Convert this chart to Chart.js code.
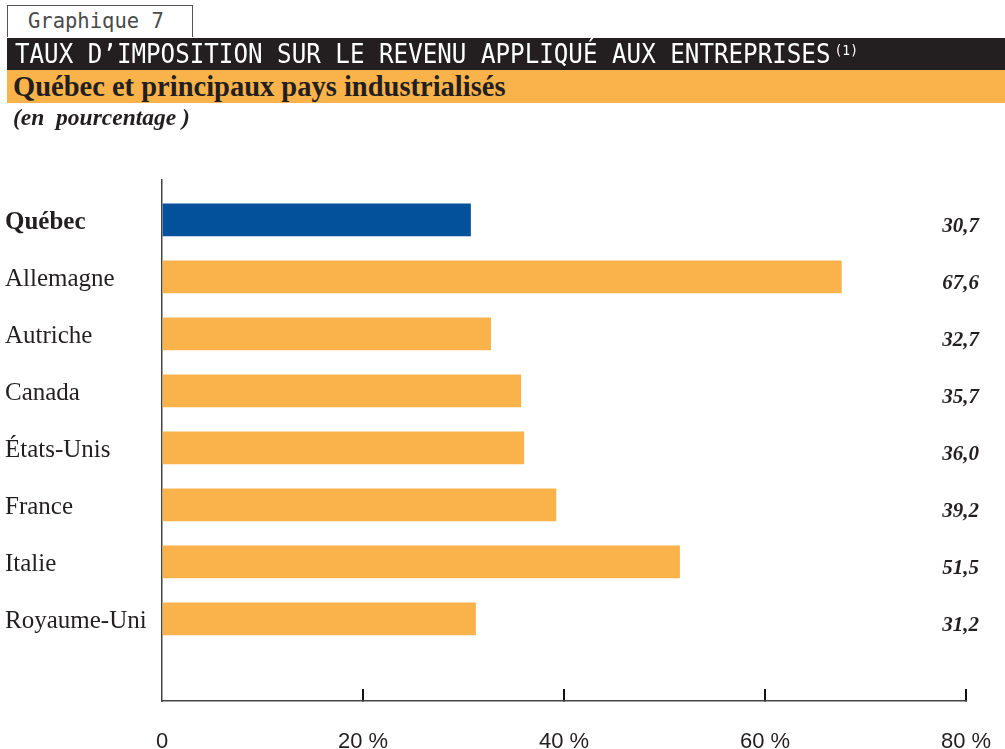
<!DOCTYPE html>
<html><head><meta charset="utf-8">
<script src="https://cdn.jsdelivr.net/npm/chart.js@4"></script>
<style>
html,body{margin:0;padding:0;background:#fff;width:1005px;height:749px;overflow:hidden;}
#wrap{position:relative;width:1005px;height:749px;}
canvas{position:absolute;left:0;top:0;}
.hdr{position:absolute;white-space:nowrap;}
#gbox{left:7px;top:5px;width:184px;height:31px;border:1.5px solid #555;border-bottom:none;background:#fff;
 font-family:'DejaVu Sans Mono',monospace;font-size:20.5px;color:#4a4a4a;line-height:31px;}
#gbox span{margin-left:20px;}
#band1{left:7px;top:38px;width:998px;height:32px;background:#231f20;color:#fff;
 font-family:'DejaVu Sans Mono',monospace;font-size:24.2px;line-height:32px;}
#band1 .t{display:inline-block;transform:scaleY(1.12);margin-left:8px;}
#band1 sup{font-size:13px;vertical-align:top;position:relative;top:-3px;margin-left:4px;}
#band2{left:7px;top:70px;width:998px;height:33px;background:#fab34a;color:#231f20;
 font-family:'Liberation Serif',serif;font-weight:bold;font-size:28.5px;line-height:33px;}
#band2 span{margin-left:6px;}
#unit{left:13px;top:103px;font-family:'Liberation Serif',serif;font-style:italic;font-weight:bold;font-size:23.5px;color:#231f20;line-height:28px;}
</style></head>
<body><div id="wrap">
<canvas id="c" width="1005" height="749"></canvas>
<div class="hdr" id="gbox"><span>Graphique 7</span></div>
<div class="hdr" id="band1"><span class="t">TAUX D’IMPOSITION SUR LE REVENU APPLIQUÉ AUX ENTREPRISES<sup>(1)</sup></span></div>
<div class="hdr" id="band2"><span>Québec et principaux pays industrialisés</span></div>
<div class="hdr" id="unit">(en&nbsp; pourcentage )</div>
</div>
<script>
const categories = ['Québec','Allemagne','Autriche','Canada','États-Unis','France','Italie','Royaume-Uni'];
const values = [30.7, 67.6, 32.7, 35.7, 36.0, 39.2, 51.5, 31.2];
const xTicks = [0, 20, 40, 60, 80];
const highlight = 'Québec';

const ORANGE = '#fab34a', BLUE = '#03519b', INK = '#231f20';

const valueLabels = {
  id: 'valueLabels',
  afterDatasetsDraw(chart) {
    const ctx = chart.ctx, ys = chart.scales.y, area = chart.chartArea;
    ctx.save();
    ctx.font = 'italic bold 21px "Liberation Serif", serif';
    ctx.fillStyle = INK;
    ctx.textAlign = 'right';
    ctx.textBaseline = 'middle';
    values.forEach((v, i) => {
      ctx.fillText(v.toFixed(1).replace('.', ','), area.right + 13, ys.getPixelForValue(i) + 7);
    });
    ctx.restore();
  }
};

new Chart(document.getElementById('c'), {
  type: 'bar',
  data: {
    datasets: [{
      data: values.map((v, i) => ({x: v, y: i})),
      backgroundColor: categories.map(c => c === highlight ? BLUE : ORANGE),
      barThickness: 32,
      borderWidth: 0
    }]
  },
  options: {
    indexAxis: 'y',
    responsive: false,
    animation: false,
    devicePixelRatio: 1,
    layout: {padding: {top: 180, left: 5, right: 39, bottom: 0}},
    plugins: {legend: {display: false}, tooltip: {enabled: false}},
    scales: {
      x: {
        type: 'linear', position: 'bottom', min: 0, max: 80, bounds: 'data', offset: false,
        afterBuildTicks: s => { s.ticks = xTicks.map(v => ({value: v})); },
        afterFit: s => { s.height = 48; s.paddingLeft = 0; s.paddingRight = 0; },
        border: {display: true, color: '#444', width: 1.5},
        grid: {
          offset: false, drawOnChartArea: false, drawTicks: true, tickLength: -12,
          color: c => (c.tick && c.tick.value === 0) ? 'rgba(0,0,0,0)' : '#111',
          lineWidth: 2
        },
        ticks: {
          padding: 40, color: INK, maxRotation: 0,
          font: {family: "'Liberation Sans', sans-serif", size: 22},
          callback: v => v === 0 ? '0' : v + ' %'
        }
      },
      y: {
        type: 'linear', reverse: true, min: -0.7, max: 8.44, bounds: 'data', offset: false,
        afterBuildTicks: s => { s.ticks = categories.map((_, i) => ({value: i})); },
        afterFit: s => { s.width = 157; s.paddingTop = 0; s.paddingBottom = 0; },
        border: {display: true, color: '#444', width: 1.5},
        grid: {offset: false, display: false, drawTicks: false},
        ticks: {
          crossAlign: 'far', padding: 0, color: INK, labelOffset: 3,
          font: c => ({family: "'Liberation Serif', serif", size: 25,
                       weight: categories[c.tick ? c.tick.value : 0] === highlight ? 'bold' : 'normal'}),
          callback: v => categories[v]
        }
      }
    }
  },
  plugins: [valueLabels]
});
</script>
</body></html>
